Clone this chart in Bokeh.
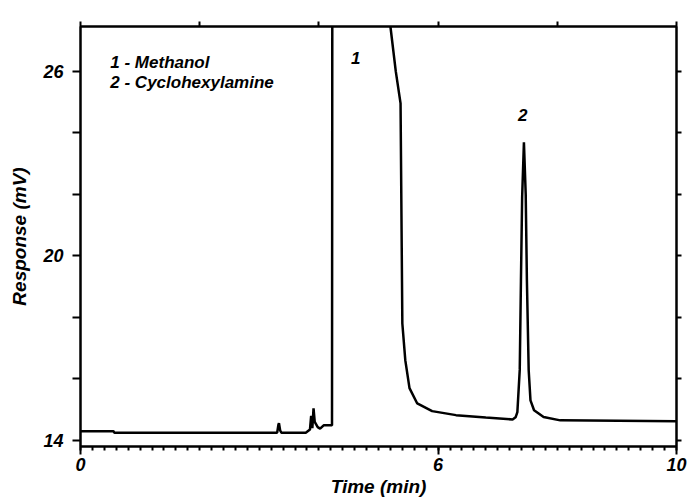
from bokeh.plotting import figure
from bokeh.models import LinearAxis, FixedTicker, Range1d
from bokeh.core.properties import value
from bokeh.embed import file_html
from bokeh.resources import INLINE

# ---- data ----
time_min = [0.00, 0.55, 0.57, 3.30, 3.32, 3.33, 3.35, 3.37, 3.78, 3.85, 3.87,
            3.89, 3.91, 3.93, 3.98, 4.02, 4.08, 4.22, 4.225, 4.90, 5.20, 5.29,
            5.37, 5.40, 5.45, 5.52, 5.65, 5.90, 6.30, 6.80, 7.25, 7.30, 7.33,
            7.37, 7.39, 7.41, 7.44, 7.47, 7.49, 7.52, 7.55, 7.61, 7.77, 8.05, 10.00]
response_mv = [14.30, 14.30, 14.25, 14.25, 14.50, 14.56, 14.32, 14.25, 14.25, 14.35, 14.80,
               14.40, 15.04, 14.60, 14.43, 14.38, 14.49, 14.49, 28.50, 28.50, 27.46, 26.00,
               24.96, 17.80, 16.60, 15.70, 15.20, 14.95, 14.82, 14.74, 14.68, 14.75, 14.92,
               16.30, 19.20, 21.90, 23.69, 22.00, 19.20, 16.28, 15.30, 14.98, 14.76, 14.65, 14.62]

x_labeled = [0, 6, 10]
x_unlabeled = [2, 4, 8]
x_all = [0, 2, 4, 6, 8, 10]
x_minor = [round(i * 0.2, 1) for i in range(51)]
y_labeled = [14, 20, 26]
y_unlabeled = [16, 18, 22, 24]
y_all = [14, 16, 18, 20, 22, 24, 26]

peak_labels = ["1", "2"]
peak_x = [4.62, 7.42]
peak_y = [26.42, 24.57]
legend_lines = ["1 - Methanol", "2 - Cyclohexylamine"]
legend_x = [0.5, 0.5]
legend_y = [26.29, 25.64]

FONT = "Liberation Sans"

p = figure(width=688, height=496, output_backend="svg", toolbar_location=None,
           x_range=Range1d(0, 10), y_range=Range1d(13.8, 27.46),
           min_border_left=80, min_border_right=12, min_border_top=26, min_border_bottom=50)
p.frame_width = 596
p.frame_height = 420
p.grid.visible = False
p.outline_line_color = "black"
p.outline_line_width = 2
p.background_fill_color = "white"
p.border_fill_color = "white"

p.line(time_min, response_mv, line_color="black", line_width=2.5)

def style_axis(ax):
    ax.axis_line_width = 2
    ax.axis_line_color = "black"
    ax.major_tick_line_width = 2
    ax.minor_tick_line_width = 2
    ax.major_tick_in = 0
    ax.minor_tick_in = 0
    ax.major_label_text_font = FONT
    ax.major_label_text_font_style = "bold italic"
    ax.major_label_text_font_size = "18px"
    ax.major_label_text_color = "black"
    ax.axis_label_text_font = FONT
    ax.axis_label_text_font_style = "bold italic"
    ax.axis_label_text_font_size = "19px"
    ax.axis_label_text_color = "black"

xa = p.xaxis[0]
style_axis(xa)
xa.ticker = FixedTicker(ticks=x_labeled, minor_ticks=x_minor + x_unlabeled)
xa.major_tick_out = 8
xa.minor_tick_out = 4
xa.major_label_standoff = 3
xa.axis_label = "Time (min)"
xa.axis_label_standoff = 2

ya = p.yaxis[0]
style_axis(ya)
ya.ticker = FixedTicker(ticks=y_labeled, minor_ticks=y_unlabeled)
ya.major_tick_out = 8
ya.minor_tick_out = 8
ya.major_label_standoff = 9
ya.axis_label = "Response (mV)"
ya.axis_label_standoff = 10

top = LinearAxis(ticker=FixedTicker(ticks=[], minor_ticks=x_all))
style_axis(top)
top.minor_tick_out = 5
p.add_layout(top, "above")

right = LinearAxis(ticker=FixedTicker(ticks=[], minor_ticks=y_all))
style_axis(right)
right.minor_tick_out = 5
p.add_layout(right, "right")

p.text(x=peak_x, y=peak_y, text=peak_labels, text_font_size="17px",
       text_font_style="bold italic", text_align="center", text_baseline="middle",
       text_color="black", text_font=value(FONT))

p.text(x=legend_x, y=legend_y, text=legend_lines, text_font_size="17px",
       text_font_style="bold italic", text_align="left", text_baseline="middle",
       text_color="black", text_font=value(FONT))

open("out.html", "w").write(file_html(p, INLINE))
